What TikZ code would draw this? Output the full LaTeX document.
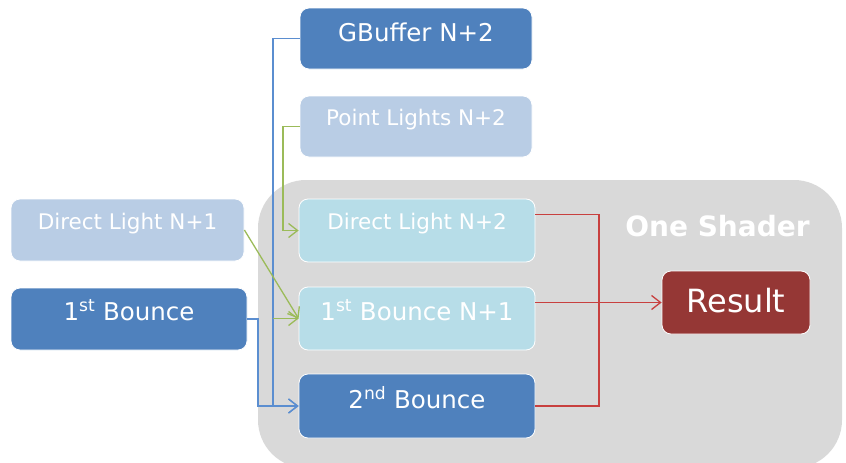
\documentclass[tikz,border=0pt]{standalone}
\usepackage{fontspec}
\setmainfont{DejaVu Sans}
\usetikzlibrary{arrows.meta,calc}
\definecolor{boxdark}{HTML}{4F81BD}
\definecolor{boxpale}{HTML}{B9CDE5}
\definecolor{boxcyan}{HTML}{B7DDE8}
\definecolor{boxred}{HTML}{953735}
\definecolor{shadergrey}{HTML}{D9D9D9}
\definecolor{lineblue}{HTML}{5B8ED0}
\definecolor{linegreen}{HTML}{9BBB59}
\definecolor{linered}{HTML}{C8403F}
\begin{document}
\begin{tikzpicture}[x=1pt,y=-1pt,
    box/.style ={rounded corners=9pt, draw=white, line width=0.8pt, text=white, inner sep=0pt, text depth=14pt},
    bigtext/.style ={font=\fontsize{24.5}{28}\selectfont, text height=17.9pt},
    smalltext/.style ={font=\fontsize{21.5}{25}\selectfont, text height=15.7pt},
    darkbox/.style ={box, fill=boxdark, bigtext},
    palebox/.style ={box, fill=boxpale, smalltext},
    cyanbox/.style ={box, fill=boxcyan},
    conn/.style ={line width=1.3pt, -{Straight Barb[length=9pt,width=14pt]}}]
   \useasboundingbox (0,0) rectangle (846,463);
   \fill[shadergrey, rounded corners=48pt] (258,180) rectangle (842,468);
   \node[text=white, font=\bfseries\fontsize{28}{32}\selectfont, text height=20.4pt, text depth=0pt] (title) at (717.5,226.7) {One Shader};
   % inputs
   \node[darkbox, minimum width=232pt, minimum height=61pt, text depth=12pt] (gbuf) at (416,38.5) {GBuffer N+2};
   \node[palebox, minimum width=232pt, minimum height=61pt, text depth=17pt] (plights) at (416,126.5) {Point Lights N+2};
   \node[palebox, minimum width=233pt, minimum height=62pt, text depth=17pt] (dlight1) at (127.5,230) {Direct Light N+1};
   \node[darkbox, minimum width=236pt, minimum height=62pt] (bounce1) at (129,319) {1\textsuperscript{st} Bounce};
   % shader passes
   \node[cyanbox, smalltext, minimum width=236pt, minimum height=63pt, text depth=18pt] (dlight2) at (417,230.5) {Direct Light N+2};
   \node[cyanbox, bigtext, minimum width=236pt, minimum height=63pt, text depth=13pt] (bounce1n) at (417,318.5) {1\textsuperscript{st} Bounce N+1};
   \node[darkbox, minimum width=236pt, minimum height=64pt, text depth=12pt] (bounce2) at (417,406) {2\textsuperscript{nd} Bounce};
   \node[box, fill=boxred, font=\fontsize{32}{36}\selectfont, text height=23.3pt, minimum width=148pt, minimum height=63pt, text depth=3pt] (result) at (736,302.5) {Result};
   % bends of the connectors
   \coordinate (gbus) at (273,406);
   \coordinate (bbus) at (258,406);
   \coordinate (pbus) at (283,230.5);
   \coordinate (gjoin) at (273,318.5);
   \coordinate (rbus) at (599,302.5);
   \draw[conn, lineblue] (gbuf.west) -| (gbus) -- (bounce2.west);
   \draw[conn, lineblue] (bounce1.east) -| (bbus) -- (bounce2.west);
   \draw[conn, linegreen] (plights.west) -| (pbus) -- (dlight2.west);
   \draw[conn, linegreen] (dlight1.east) -- (bounce1n.west);
   \draw[conn, linegreen] (gjoin) -- (bounce1n.west);
   \draw[line width=1.3pt, linered] ($(dlight2.north east)!0.25!(dlight2.south east)$) -| (rbus) |- (bounce2.east);
   \draw[conn, linered] (bounce1n.east |- result.west) -- (result.west);
 \end{tikzpicture}
\end{document}
